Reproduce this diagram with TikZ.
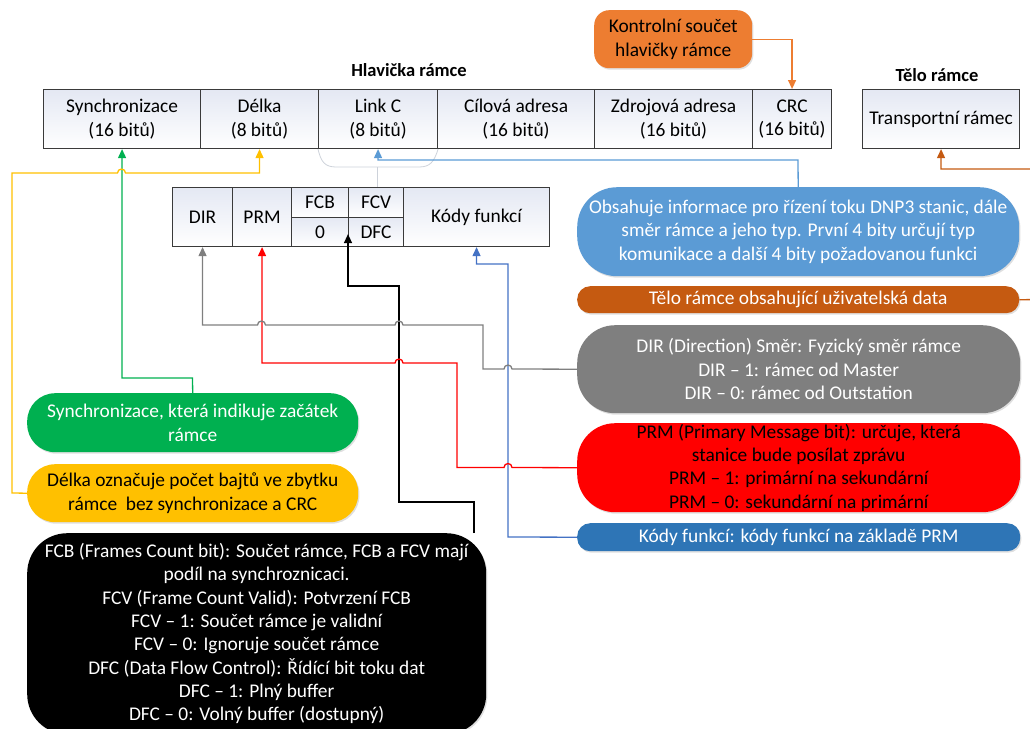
\documentclass[tikz,border=0pt]{standalone}
\usepackage{fontspec}
\setmainfont{Carlito}
\usetikzlibrary{arrows.meta,shadows,calc}
\definecolor{cOrange}{HTML}{ED7D31}
\definecolor{cBlueL}{HTML}{5B9BD5}
\definecolor{cBrown}{HTML}{C55A11}
\definecolor{cGrey}{HTML}{7F7F7F}
\definecolor{cRed}{HTML}{FF0000}
\definecolor{cBlueD}{HTML}{2E75B6}
\definecolor{cBlueK}{HTML}{4472C4}
\definecolor{cGreen}{HTML}{00B050}
\definecolor{cYellow}{HTML}{FFC000}
\definecolor{cCellTop}{HTML}{E4E8F3}
\definecolor{cBorder}{HTML}{3A3A3A}
\definecolor{cBracket}{HTML}{CDD2DA}
\begin{document}
\begin{tikzpicture}[x=1pt,y=-1pt,
  font=\fontsize{19.4}{23.3}\selectfont,
  cell/.style={draw=cBorder, line width=1.1pt, top color=cCellTop, bottom color=white,
    minimum height=59, inner sep=0pt, align=center, anchor=north west},
  pill/.style={fill=#1, draw=none, align=center, inner sep=0pt, anchor=north west,
    drop shadow={shadow xshift=1.2pt, shadow yshift=-1.5pt, opacity=.25, fill=black!50}},
  conn/.style={line width=1.3pt, draw=#1, -{Triangle[length=9pt,width=8pt]}},
  bracket/.style={line width=0.8pt, draw=cBracket},
  title/.style={font=\fontsize{18.5}{22}\selectfont\bfseries}
]
\useasboundingbox (0,0) rectangle (1030,728);
\clip (0,0) rectangle (1030,728);

% titles
\node[title] (hlav) at (409,70) {Hlavička rámce};
\node[title] (telotitle) at (937,75) {Tělo rámce};

% top row
\node[cell, minimum width=157] (synchr) at (43,89) {Synchronizace\\(16 bitů)};
\node[cell, minimum width=118] (delka) at (200,89) {Délka\\(8 bitů)};
\node[cell, minimum width=119] (linkc) at (318,89) {Link C\\(8 bitů)};
\node[cell, minimum width=157] (cil) at (437,89) {Cílová adresa\\(16 bitů)};
\node[cell, minimum width=158] (zdroj) at (594,89) {Zdrojová adresa\\(16 bitů)};
\node[cell, minimum width=79] (crc) at (752,89) {CRC\\(16 bitů)};
\node[cell, minimum width=157] (telo) at (862,89) {Transportní rámec};

% faint bracket under Link C
\draw[bracket] (linkc.south west) .. controls (321,162) and (325,167) .. (336,167) -- (419,167) .. controls (430,167) and (434,162) .. (linkc.south east);
\draw[bracket] (377.5,167) -- (377.5,187);

% sub box (Link C detail)
\node[cell, minimum width=60] (dir) at (172,187) {DIR};
\node[cell, minimum width=59] (prm) at (232,187) {PRM};
\node[cell, minimum width=57, minimum height=29.5] (fcb) at (291,187) {FCB};
\node[cell, minimum width=55, minimum height=29.5] (fcv) at (348,187) {FCV};
\node[cell, minimum width=57, minimum height=29.5] (zero) at (291,216.5) {0};
\node[cell, minimum width=55, minimum height=29.5] (dfc) at (348,216.5) {DFC};
\node[cell, minimum width=146] (kody) at (403,187) {Kódy funkcí};

% description boxes
\node[pill=cOrange, rounded corners=15pt, minimum width=158, minimum height=58, text=black] (kontrol) at (594,10) {Kontrolní součet\\hlavičky rámce};
\node[pill=cBlueL, rounded corners=40pt, minimum width=442, minimum height=89, text=white] (obsbox) at (577,187) {Obsahuje informace pro řízení toku DNP3 stanic, dále\\směr rámce a jeho typ. První 4 bity určují typ\\komunikace a další 4 bity požadovanou funkci};
\node[pill=cBrown, rounded corners=13pt, minimum width=442, minimum height=27, text=white] (telodata) at (577,286) {Tělo rámce obsahující uživatelská data};
\node[pill=cGrey, rounded corners=38pt, minimum width=443, minimum height=88, text=white] (dirbox) at (577,325) {DIR (Direction) Směr: Fyzický směr rámce\\DIR – 1: rámec od Master\\DIR – 0: rámec od Outstation};
\node[pill=cRed, rounded corners=38pt, minimum width=443, minimum height=89, text=black] (prmbox) at (577,423) {PRM (Primary Message bit): určuje, která\\stanice bude posílat zprávu\\PRM – 1: primární na sekundární\\PRM – 0: sekundární na primární};
\node[pill=cBlueD, rounded corners=13pt, minimum width=443, minimum height=28, text=white] (kodbox) at (577,523) {Kódy funkcí: kódy funkcí na základě PRM};
\node[pill=cGreen, rounded corners=28pt, minimum width=331, minimum height=59, text=white] (syncbox) at (27,393) {Synchronizace, která indikuje začátek\\rámce};
\node[pill=cYellow, rounded corners=28pt, minimum width=331, minimum height=58, text=black] (delkabox) at (27,464) {Délka označuje počet bajtů ve zbytku\\rámce\ \ bez synchronizace a CRC};
\node[pill=black, rounded corners=40pt, minimum width=459, minimum height=201, text=white] (blk) at (27,533) {FCB (Frames Count bit): Součet rámce, FCB a FCV mají\\podíl na synchroznicaci.\\FCV (Frame Count Valid): Potvrzení FCB\\FCV – 1: Součet rámce je validní\\FCV – 0: Ignoruje součet rámce\\DFC (Data Flow Control): Řídící bit toku dat\\DFC – 1: Plný buffer\\DFC – 0: Volný buffer (dostupný)};

% connectors
\draw[conn=cOrange] (kontrol.east) -| (crc.north);
\draw[conn=cBrown] (telodata.east) -- (1045,299.5) -- (1045,169) -| (telo.south);
\draw[conn=cBlueL] (obsbox.north) -- (798,160) -| (linkc.south);
\draw[conn=cGreen] (syncbox.north) -- (192.5,378) -| (synchr.south);
\draw[conn=cYellow] (delkabox.west) -- (12,493) -- (12,173) -- (117.5,173)
  arc[start angle=180, end angle=0, radius=4pt] -| (delka.south);
\draw[conn=cBlueK] (kodbox.west) -- (508,537) -- (508,264) -| (kody.south);
\draw[conn=black] ($(blk.north west)+(447,0)$) -- (474,502) -- (399,502) -- (399,286) -- (348,286) -- ($(dfc.south west)+(0,-13)$);
\draw[conn=cRed] (prmbox.west) -- (512,467.5)
  arc[start angle=0, end angle=180, radius=4pt] -- (457,467.5) -- (457,363) -- (403,363)
  arc[start angle=0, end angle=180, radius=4pt] -| (prm.south);
\draw[conn=cGrey] (dirbox.west) -- (512,369)
  arc[start angle=0, end angle=180, radius=4pt] -- (483,369) -- (483,325) -- (403,325)
  arc[start angle=0, end angle=180, radius=4pt] -- (265.5,325)
  arc[start angle=0, end angle=180, radius=4pt] -| (dir.south);
\end{tikzpicture}
\end{document}
